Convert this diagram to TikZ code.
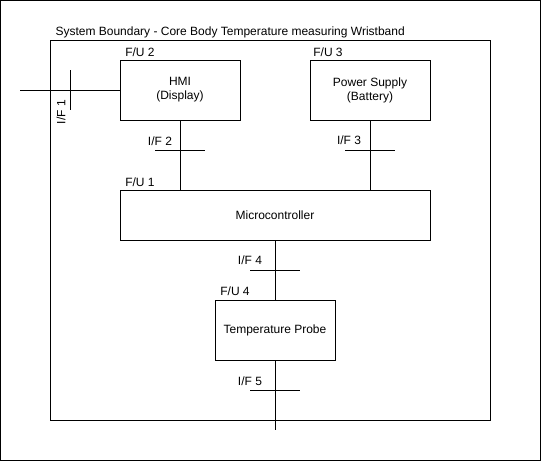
\documentclass[tikz,border=0pt]{standalone}
\usepackage{fontspec}
\setmainfont{Liberation Sans}
\begin{document}
\begin{tikzpicture}[x=1pt,y=-1pt,line width=1pt,
  every node/.style={font=\fontsize{12pt}{14pt}\selectfont},
  unitbox/.style={draw,line width=1pt,inner sep=0pt,align=center},
  lbl/.style={inner sep=0pt},
  conn/.style={line width=1pt}]
\useasboundingbox (0,0) rectangle (541,461);
\draw (0.5,0.5) rectangle (540,460);
% system boundary
\draw (50,40) rectangle (490,420);
\node[lbl,anchor=west] (title) at (55,32) {System Boundary - Core Body Temperature measuring Wristband};
% units
\node[unitbox,minimum width=120pt,minimum height=60pt] (hmi) at (180,90) {HMI\\(Display)};
\node[unitbox,minimum width=120pt,minimum height=60pt] (psu) at (370,90) {Power Supply\\(Battery)};
\node[unitbox,minimum width=310pt,minimum height=50pt] (mcu) at (275,215) {Microcontroller};
\node[unitbox,minimum width=120pt,minimum height=60pt] (probe) at (275,330) {Temperature Probe};
% unit labels
\node[lbl] (fu2) at (140,52) {F/U 2};
\node[lbl] (fu3) at (328,52) {F/U 3};
\node[lbl] (fu1) at (140,182) {F/U 1};
\node[lbl] (fu4) at (235,291) {F/U 4};
% interface labels
\node[lbl,rotate=90] (if1) at (61,112) {I/F 1};
\node[lbl] (if2) at (160,141) {I/F 2};
\node[lbl] (if3) at (349,140) {I/F 3};
\node[lbl] (if4) at (250,260) {I/F 4};
\node[lbl] (if5) at (250,381) {I/F 5};
% free ends
\coordinate (ext) at (20,90);
\coordinate (sens) at (275,430);
% connectors
\draw[conn] (ext) -- (hmi.west);
\draw[conn] (hmi.south) -- (hmi.south |- mcu.north);
\draw[conn] (psu.south) -- (psu.south |- mcu.north);
\draw[conn] (mcu.south) -- (probe.north);
\draw[conn] (probe.south) -- (sens);
% interface ticks
\coordinate (t1a) at (70,70); \coordinate (t1b) at (70,110);
\coordinate (t2a) at (155,150); \coordinate (t2b) at (205,150);
\coordinate (t3a) at (345,150); \coordinate (t3b) at (395,150);
\coordinate (t4a) at (250,270); \coordinate (t4b) at (300,270);
\coordinate (t5a) at (250,390); \coordinate (t5b) at (300,390);
\draw[conn] (t1a) -- (t1b);
\draw[conn] (t2a) -- (t2b);
\draw[conn] (t3a) -- (t3b);
\draw[conn] (t4a) -- (t4b);
\draw[conn] (t5a) -- (t5b);
\end{tikzpicture}
\end{document}
